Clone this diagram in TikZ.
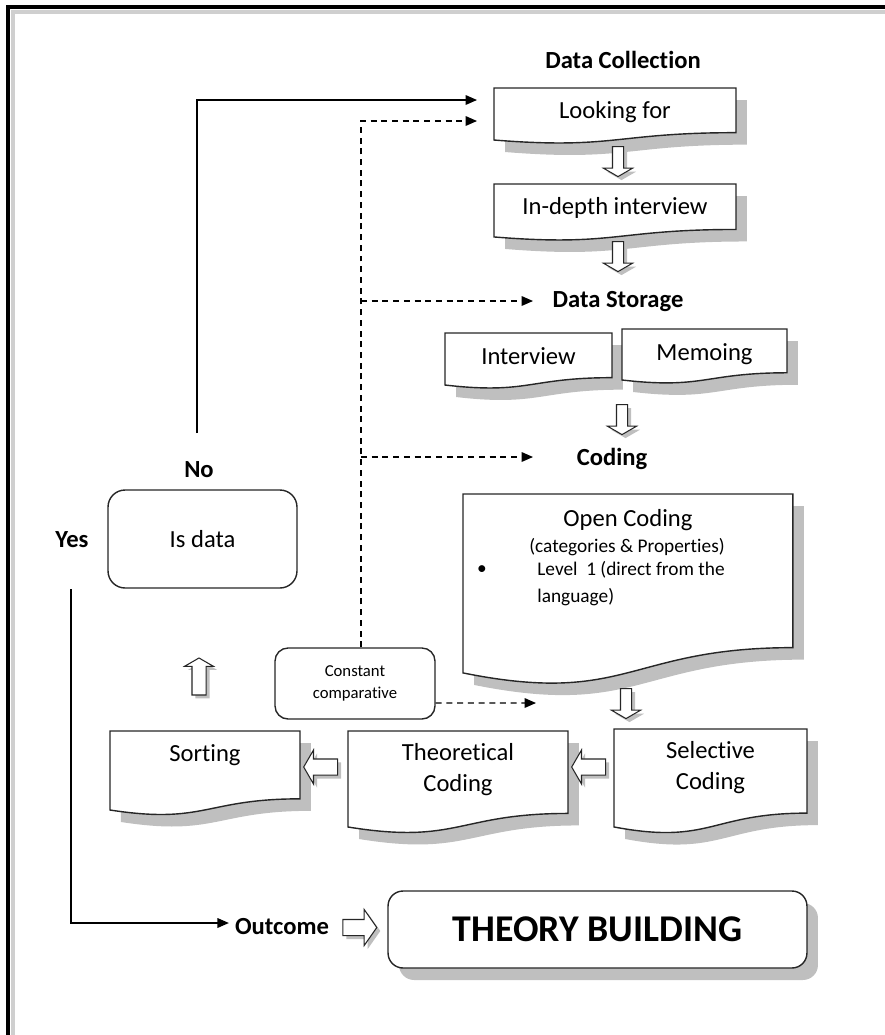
\documentclass[tikz,border=0pt]{standalone}
\usepackage{fontspec}
\setmainfont{Carlito}[Ligatures=NoCommon]
\usepackage{tikz}
\usetikzlibrary{positioning,arrows.meta,calc,shapes.arrows,shadows,backgrounds}

\definecolor{shadowgray}{HTML}{BFBFBF}
\definecolor{framegray}{HTML}{CFCFCF}

\newcommand{\boxfont}{\fontsize{14}{17.6}\selectfont}
\newcommand{\notefont}{\fontsize{11}{13.5}\selectfont}
\newcommand{\cmpfont}{\fontsize{9.5}{12.5}\selectfont}
\newcommand{\bigfont}{\fontsize{21.5}{26}\selectfont\bfseries}

% outline of a document box, taken from the anchors of its node
\newcommand{\docpath}[1]{%
  (#1.north west) -- (#1.north east)
  -- ($(#1.north east)!0.802!(#1.south east)$)
  .. controls ($(#1.north)!0.802!(#1.south)$) and ($(#1.north)!1.107!(#1.south)$)
  .. ($(#1.north west)!0.934!(#1.south west)$) -- cycle}

\tikzset{
  lbl/.style={font=\boxfont\bfseries},
  boxtext/.style={font=\boxfont, align=center, inner sep=0pt},
  docbox/.style={anchor=north west, inner sep=0pt, outer sep=0pt},
  docline/.style={draw=black!85, line width=0.8pt, fill=white,
    general shadow={fill=shadowgray, shadow xshift=0.22cm, shadow yshift=-0.24cm}},
  roundbox/.style={draw=black!85, line width=0.8pt, fill=white,
    rounded corners=0.34cm, align=center, font=\boxfont},
  blockarrow/.style={single arrow, draw=black!85, fill=white, line width=0.6pt,
    inner sep=0.1cm, single arrow head extend=0.18cm, single arrow tip angle=120,
    minimum height=0.6cm,
    general shadow={fill=shadowgray, shadow xshift=0.07cm, shadow yshift=-0.07cm}},
  flow/.style={line width=0.7pt, -{Triangle[length=6.5pt,width=5.5pt]}},
  dashflow/.style={flow, dash pattern=on 3.4pt off 2.7pt},
}

\begin{document}
\begin{tikzpicture}[x=0.02cm, y=-0.02cm]
  \useasboundingbox (0,0) rectangle (885,1035);

  % frame
  \draw[framegray, line width=1.8pt] (13,1035) |- (885,12);
  \draw[line width=1.8pt] (8,1035) |- (885,7);

  % headings
  \node[lbl] (dcol) at (623,60) {Data Collection};
  \node[lbl] (dstore) at (618,302) {Data Storage};
  \node[lbl] (coding) at (612,459) {Coding};
  \node[lbl] (no) at (199,470) {No};
  \node[lbl] (yes) at (72,540) {Yes};
  \node[lbl] (outcome) at (282,927) {Outcome};

  % document boxes
  \node[docbox, minimum width=4.84cm, minimum height=1.114cm] (look) at (494,88) {};
  \node[docbox, minimum width=4.84cm, minimum height=1.134cm] (indepth) at (494,184) {};
  \node[docbox, minimum width=3.34cm, minimum height=1.114cm] (interview) at (445,333) {};
  \node[docbox, minimum width=3.30cm, minimum height=1.092cm] (memoing) at (622,329) {};
  \node[docbox, minimum width=6.60cm, minimum height=3.832cm] (opencod) at (463,494) {};
  \node[docbox, minimum width=3.80cm, minimum height=1.692cm] (sorting) at (110,731) {};
  \node[docbox, minimum width=4.40cm, minimum height=2.056cm] (theor) at (348,731) {};
  \node[docbox, minimum width=3.86cm, minimum height=2.098cm] (select) at (614,729) {};

  \begin{scope}[on background layer]
    \foreach \b in {look,indepth,interview,memoing,opencod,sorting,theor,select}
      \draw[docline] \docpath{\b};
  \end{scope}

  \node[boxtext] (look-t) at ($(look.north)+(0,24)$) {Looking for};
  \node[boxtext] (indepth-t) at ($(indepth.north)+(0,24)$) {In-depth interview};
  \node[boxtext] (interview-t) at ($(interview.north)+(0,23)$) {Interview};
  \node[boxtext] (memoing-t) at ($(memoing.north)+(0,25)$) {Memoing};
  \node[boxtext] (sorting-t) at ($(sorting.north)+(0,24)$) {Sorting};
  \node[boxtext] (theor-t) at ($(theor.north)+(0,39)$) {Theoretical\\Coding};
  \node[boxtext] (select-t) at ($(select.north)+(0,39)$) {Selective\\Coding};

  \node[boxtext] (opencod-t) at ($(opencod.north)+(0,26)$) {Open Coding};
  \node[boxtext, font=\notefont] (opencod-c) at (627,547) {(categories \& Properties)};
  \node[boxtext, font=\notefont] (opencod-b) at (482,570) {\textbullet};
  \node[boxtext, font=\notefont, anchor=west] (opencod-l1) at (537,570) {Level\ \ 1 (direct from the};
  \node[boxtext, font=\notefont, anchor=west] (opencod-l2) at (537,597) {language)};

  % rounded boxes
  \node[roundbox, minimum width=3.78cm, minimum height=1.96cm] (isdata) at (202.5,539) {Is data};
  \node[roundbox, rounded corners=0.26cm, font=\cmpfont, minimum width=3.2cm,
    minimum height=1.42cm] (const) at (355,683.5) {Constant\\comparative};
  \node[roundbox, rounded corners=0.3cm, font=\bigfont, minimum width=8.38cm, minimum height=1.54cm,
    general shadow={fill=shadowgray, shadow xshift=0.22cm, shadow yshift=-0.24cm}]
    (theory) at (597.5,929.5) {THEORY BUILDING};

  % block arrows
  \node[blockarrow, shape border rotate=270] (a1) at (618,160) {};
  \node[blockarrow, shape border rotate=270] (a2) at (618,255) {};
  \node[blockarrow, shape border rotate=270] (a3) at (622,418) {};
  \node[blockarrow, shape border rotate=270] (a4) at (626,702) {};
  \node[blockarrow, shape border rotate=180, inner sep=0.15cm, minimum height=0.68cm] (a5) at (591,767) {};
  \node[blockarrow, shape border rotate=180, inner sep=0.15cm, minimum height=0.68cm] (a6) at (323,767) {};
  \node[blockarrow, shape border rotate=90, inner sep=0.13cm, single arrow head extend=0.15cm,
    minimum height=0.74cm] (a7) at (199,678.5) {};
  \node[blockarrow, inner sep=0.15cm, single arrow head extend=0.2cm, single arrow tip angle=110,
    minimum height=0.68cm] (a8) at (357,927.5) {};

  % connectors
  \coordinate (notop) at (197,433);
  \coordinate (yesbot) at (71,589);
  \coordinate (lookin) at ($(look.north west)+(-17,12)$);
  \coordinate (lookdash) at ($(look.north west)+(-17,33)$);
  \coordinate (cmp) at ([xshift=0.12cm]const.north);
  \coordinate (dsin) at (533,301);
  \coordinate (codin) at (533,457);
  \coordinate (ocin) at (536,703);

  \draw[flow] (notop) |- (lookin);
  \draw[dashflow] (cmp) |- (lookdash);
  \draw[dashflow] (cmp |- dsin) -- (dsin);
  \draw[dashflow] (cmp |- codin) -- (codin);
  \draw[dashflow] ([yshift=-0.39cm]const.east) -- (ocin);
  \draw[flow] (yesbot) |- ([yshift=0.08cm]outcome.west);
\end{tikzpicture}
\end{document}
